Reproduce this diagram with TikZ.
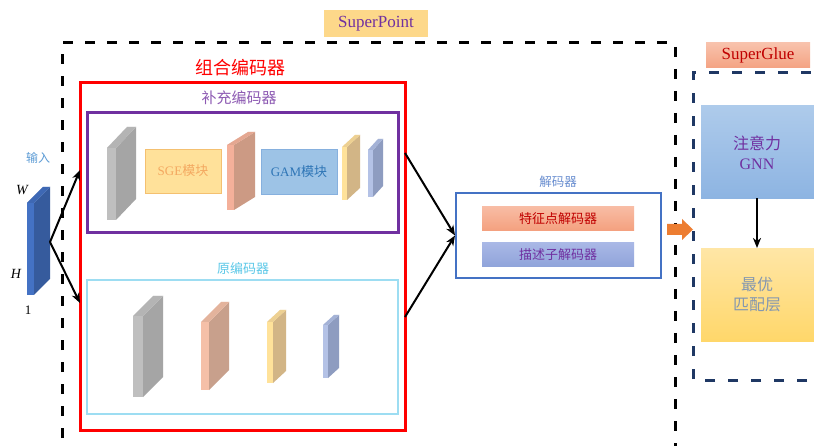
\documentclass[tikz,border=0pt]{standalone}
\usepackage{fontspec}
\setmainfont{Liberation Serif}
\newfontfamily\cjk{Noto Sans CJK SC}
\usetikzlibrary{arrows.meta}
\definecolor{spfill}{HTML}{FDD88A}
\definecolor{purp}{HTML}{7030A0}
\definecolor{redc}{HTML}{C00000}
\definecolor{navy}{HTML}{1F3864}
\definecolor{cyanb}{HTML}{9DDDF2}
\definecolor{cyant}{HTML}{5BC8E8}
\definecolor{inblue}{HTML}{5B9BD5}
\definecolor{decb}{HTML}{4472C4}
\definecolor{grF}{HTML}{BFBFBF}
\definecolor{grS}{HTML}{A5A5A5}
\definecolor{saF}{HTML}{F4B09A}
\definecolor{saS}{HTML}{CC9A84}
\definecolor{saF2}{HTML}{F5C0A8}
\definecolor{saS2}{HTML}{C8A08C}
\definecolor{yeF}{HTML}{FFE29A}
\definecolor{yeS}{HTML}{D2B586}
\definecolor{blF}{HTML}{B4C2E6}
\definecolor{blS}{HTML}{8E9CC0}
\definecolor{sgeF}{HTML}{FFE19A}
\definecolor{sgeD}{HTML}{F4C070}
\definecolor{sgeT}{HTML}{F4A860}
\definecolor{gamF}{HTML}{9DC3E6}
\definecolor{gamD}{HTML}{86B0DE}
\definecolor{gamT}{HTML}{2E75B6}
\definecolor{ftT}{HTML}{F8BCA4}
\definecolor{ftB}{HTML}{F4A07E}
\definecolor{dsT}{HTML}{A9B8E6}
\definecolor{dsB}{HTML}{8FA3DA}
\definecolor{sgT}{HTML}{F8C2AC}
\definecolor{sgB}{HTML}{F4A383}
\definecolor{gnT}{HTML}{AECBEB}
\definecolor{gnB}{HTML}{8DB4E2}
\definecolor{opT}{HTML}{FFE6A6}
\definecolor{opB}{HTML}{FFD76A}
\definecolor{opTx}{HTML}{8497B0}
\definecolor{oarr}{HTML}{ED7D31}
\newcommand{\slab}[8]{% x ytop ybot w dx dy front side
  \fill[#7] (#1,#2) rectangle (#1+#4,#3);
  \fill[#8] (#1+#4,#2) -- (#1+#4+#5,#2-#6) -- (#1+#4+#5,#3-#6) -- (#1+#4,#3) -- cycle;
  \fill[#7] (#1,#2) -- (#1+#5,#2-#6) -- (#1+#4+#5,#2-#6) -- (#1+#4,#2) -- cycle;
  \fill[#8, opacity=0.4] (#1,#2) -- (#1+#5,#2-#6) -- (#1+#4+#5,#2-#6) -- (#1+#4,#2) -- cycle;
}
\tikzset{
  lbl/.style={inner sep=0pt, anchor=center},
  conn/.style={-{Stealth[length=10pt,width=8pt,inset=3pt]}, line width=2pt, black},
}
\begin{document}
\begin{tikzpicture}[x=1pt,y=-1pt]
\useasboundingbox (0,0) rectangle (814,446);
\clip (0,0) rectangle (814,446);
\fill[white] (0,0) rectangle (814,446);

% SuperPoint
\node[fill=spfill, minimum width=104pt, minimum height=27pt, inner sep=0pt, font=\fontsize{17}{17}\selectfont, text=purp] (splbl) at (376,23.5) {SuperPoint};
\draw[black, line width=3pt, dash pattern=on 10pt off 12pt] (62,460) -- (62,43) -- (675,43) -- (675,460);

% combined encoder
\node[lbl, text=red, font=\cjk\fontsize{18}{18}\selectfont] (zhlbl) at (240,68) {组合编码器};
\draw[red, line width=3pt] (80,83) rectangle (405,430);
\coordinate (redTR) at (405,153);
\coordinate (redBR) at (405,317);

% supplementary encoder
\node[lbl, text=purp!80, font=\cjk\fontsize{15}{15}\selectfont] (bclbl) at (239,98) {补充编码器};
\draw[purp, line width=3pt] (87,113) rectangle (398,233);
\slab{107}{148}{220}{9}{20}{21}{grF}{grS}
\node[draw=sgeD, fill=sgeF, minimum width=76pt, minimum height=44pt, inner sep=0pt, font=\fontsize{13}{13}\selectfont, text=sgeT] (sge) at (183,171) {SGE{\cjk 模块}};
\slab{227}{145}{210}{7}{21}{13}{saF}{saS}
\node[draw=gamD, fill=gamF, minimum width=76pt, minimum height=45pt, inner sep=0pt, font=\fontsize{13}{13}\selectfont, text=gamT] (gam) at (299,171.5) {GAM{\cjk 模块}};
\slab{342}{147}{200}{5}{13}{12}{yeF}{yeS}
\slab{368}{150}{197}{5}{10}{11}{blF}{blS}

% original encoder
\node[lbl, text=cyant, font=\cjk\fontsize{13}{13}\selectfont] (yblbl) at (243,269) {原编码器};
\draw[cyanb, line width=2pt] (87,280) rectangle (398,414);
\slab{133}{316}{397}{10}{20}{20}{grF}{grS}
\slab{201}{322}{390}{8}{20}{20}{saF2}{saS2}
\slab{267}{322}{383}{6}{13}{12}{yeF}{yeS}
\slab{323}{325}{378}{5}{11}{10}{blF}{blS}

% input
\slab{27}{203}{295}{7}{16}{16}{decb}{decb!80!black}
\coordinate (inR) at (50,242);
\node[lbl, text=inblue, font=\cjk\fontsize{12}{12}\selectfont] (inlbl) at (38,158) {输入};
\node[lbl, font=\itshape\fontsize{14}{14}\selectfont] (wl) at (22,190) {W};
\node[lbl, font=\itshape\fontsize{14}{14}\selectfont] (hl) at (16,274) {H};
\node[lbl, font=\fontsize{13}{13}\selectfont] (one) at (28,310) {1};
\coordinate (redL1) at (80,170);
\coordinate (redL2) at (80,303);
\draw[conn] (inR) -- (redL1);
\draw[conn] (inR) -- (redL2);

% decoder
\node[lbl, text=decb!80, font=\cjk\fontsize{12.5}{12.5}\selectfont] (declbl) at (558,182) {解码器};
\node[draw=decb, line width=2pt, minimum width=205pt, minimum height=85pt, inner sep=0pt] (dec) at (558.5,235.5) {};
\node[top color=ftT, bottom color=ftB, minimum width=152pt, minimum height=24pt, inner sep=0pt, font=\cjk\fontsize{13}{13}\selectfont, text=redc] (feat) at (558,219) {特征点解码器};
\node[top color=dsT, bottom color=dsB, minimum width=152pt, minimum height=24pt, inner sep=0pt, font=\cjk\fontsize{13}{13}\selectfont, text=purp] (desc) at (558,255) {描述子解码器};
\draw[conn] (redTR) -- (dec.west);
\draw[conn] (redBR) -- (dec.west);

% orange block arrow
\coordinate (oaS) at (667,229.5);
\fill[oarr] (oaS) ++(0,-5.5) -- ++(15,0) -- ++(0,-5) -- ++(11,10.5) -- ++(-11,10.5) -- ++(0,-5) -- ++(-15,0) -- cycle;

% SuperGlue
\node[top color=sgT, bottom color=sgB, minimum width=104pt, minimum height=25pt, inner sep=0pt, font=\fontsize{17}{17}\selectfont, text=redc] (sglbl) at (758,55.5) {SuperGlue};
\draw[navy, line width=3pt, dash pattern=on 10pt off 13pt] (830,380) -- (693,380) -- (693,73) -- (830,73);
\node[top color=gnT, bottom color=gnB, minimum width=130pt, minimum height=93pt, inner sep=0pt, anchor=north west] (gnn) at (701,105) {};
\node[lbl, align=center, text=purp, font=\fontsize{16}{20}\selectfont] (gnnt) at (757,153) {{\cjk 注意力}\\GNN};
\node[top color=opT, bottom color=opB, minimum width=130pt, minimum height=93pt, inner sep=0pt, anchor=north west] (opt) at (701,248) {};
\node[lbl, align=center, text=opTx, font=\cjk\fontsize{16}{20}\selectfont] (optt) at (757,295) {最优\\匹配层};
\draw[conn] (gnn.south west -| gnnt) -- (opt.north west -| gnnt);
\end{tikzpicture}
\end{document}
